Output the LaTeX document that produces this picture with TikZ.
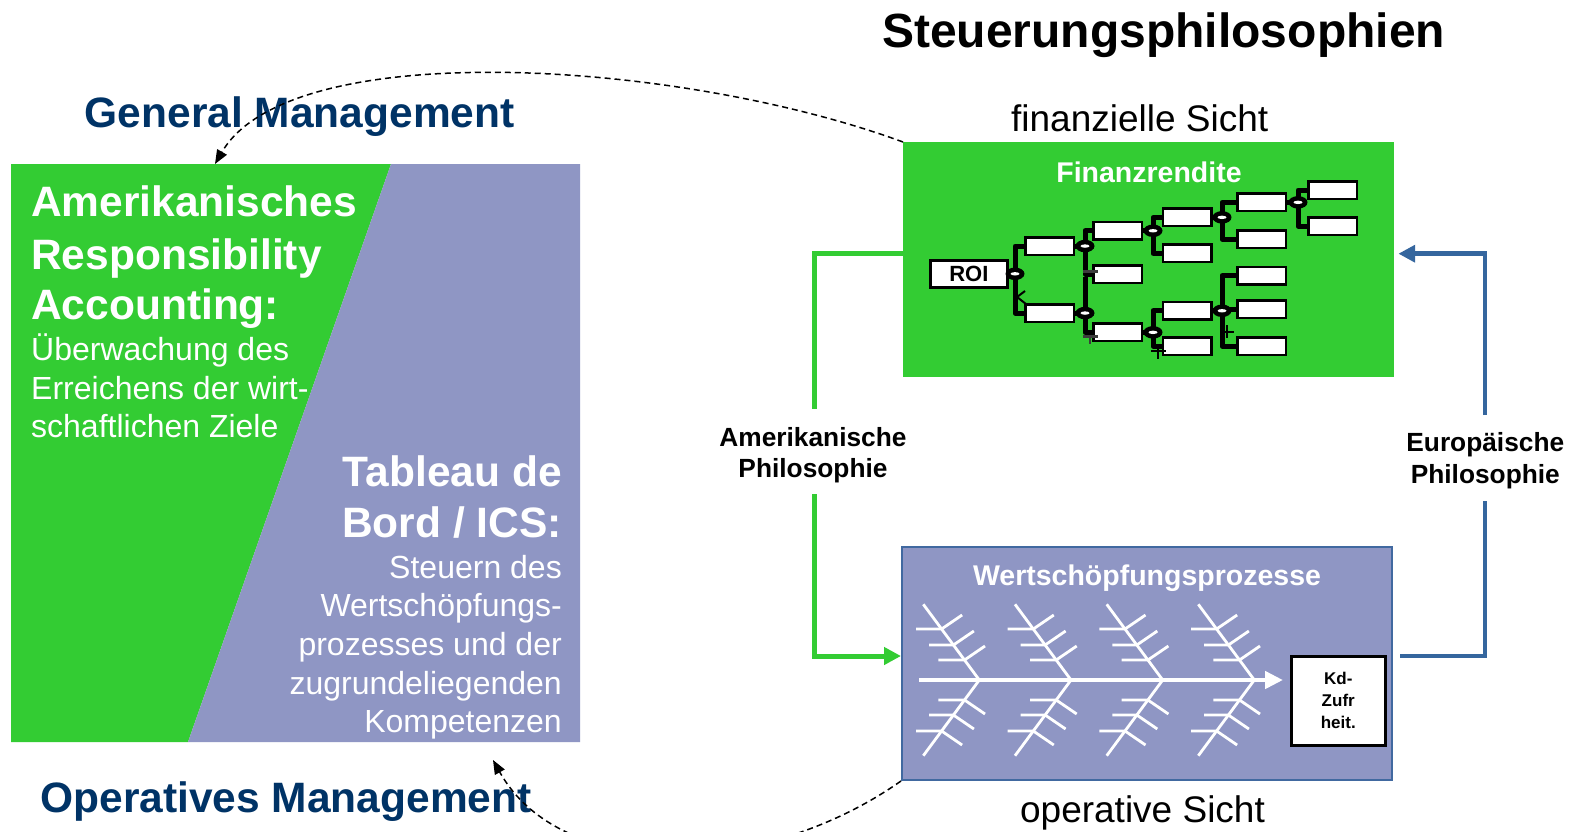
\documentclass[tikz,border=0pt]{standalone}
\usepackage{fontspec}
\setmainfont{Liberation Sans}
\usetikzlibrary{arrows.meta,shapes.geometric}
\definecolor{pgreen}{RGB}{51,204,51}
\definecolor{ppurple}{RGB}{143,150,196}
\definecolor{pborder}{RGB}{65,105,160}
\definecolor{pblue}{RGB}{53,102,158}
\definecolor{dblue}{RGB}{0,51,102}
\definecolor{markgrey}{RGB}{60,60,60}
\begin{document}
\begin{tikzpicture}[x=1pt,y=-1pt,
  wbox/.style={draw=black,fill=white,line width=2.6pt,minimum width=48.5pt,minimum height=17.5pt,inner sep=0pt,anchor=north west},
  tline/.style={line width=5pt,black,line join=round},
  opell/.style={ellipse,fill=black,minimum width=19pt,minimum height=12.5pt,inner sep=0pt,
    path picture={\fill[white] (path picture bounding box.center) ellipse (4.5pt and 1.7pt);}},
  fbone/.style={white,line width=2.8pt},
  gline/.style={pgreen,line width=5pt},
  bline/.style={pblue,line width=4.5pt},
  dline/.style={black,line width=1.5pt,dash pattern=on 6pt off 4pt,-{Triangle[length=14pt,width=11pt]}},
  gmark/.style={markgrey,line width=3pt},
  tbig/.style={font=\fontsize{42.5}{51}\selectfont\bfseries,text=white,inner sep=0pt},
  treg/.style={font=\fontsize{32}{38}\selectfont,text=white,inner sep=0pt},
  mgmt/.style={font=\fontsize{42.5}{52}\selectfont\bfseries,text=dblue,inner sep=0pt,anchor=base west},
  sicht/.style={font=\fontsize{37}{44}\selectfont,inner sep=0pt,anchor=base},
  phil/.style={font=\fontsize{26.3}{31}\selectfont\bfseries,inner sep=0pt,anchor=base},
  btitle/.style={font=\fontsize{28.5}{34}\selectfont\bfseries,text=white,inner sep=0pt,anchor=base},
]
\useasboundingbox (0,0) rectangle (1579,831);
\fill[white] (0,0) rectangle (1579,831);

% ---------- title ----------
\node[font=\fontsize{48}{58}\selectfont\bfseries,inner sep=0pt,anchor=base] (title) at (1163.6,47.5) {Steuerungsphilosophien};

% ---------- left panel ----------
\node[minimum width=569pt,minimum height=578pt,inner sep=0pt,anchor=north west] (panel) at (11,164) {};
\fill[pgreen] (11,164) -- (391,164) -- (188,742) -- (11,742) -- cycle;
\fill[ppurple] (391,164) -- (580,164) -- (580,742) -- (188,742) -- cycle;

\node[mgmt] (gm) at (84.6,127.5) {General Management};
\node[mgmt] (om) at (40.3,812) {Operatives Management};

\node[tbig,anchor=base west] (l1) at (31,216.6) {Amerikanisches};
\node[tbig,anchor=base west] (l2) at (31,269) {Responsibility};
\node[tbig,anchor=base west] (l3) at (31,319.3) {Accounting:};
\node[treg,anchor=base west] (l4) at (31,360.9) {Überwachung des};
\node[treg,anchor=base west] (l5) at (31,399.2) {Erreichens der wirt-};
\node[treg,anchor=base west] (l6) at (31,437.5) {schaftlichen Ziele};

\node[tbig,anchor=base east] (r1) at (562,486.5) {Tableau de};
\node[tbig,anchor=base east] (r2) at (562,537.8) {Bord / ICS:};
\node[treg,anchor=base east] (r3) at (562,578.4) {Steuern des};
\node[treg,anchor=base east] (r4) at (562,616.7) {Wertschöpfungs-};
\node[treg,anchor=base east] (r5) at (562,655) {prozesses und der};
\node[treg,anchor=base east] (r6) at (562,694.2) {zugrundeliegenden};
\node[treg,anchor=base east] (r7) at (562,732.5) {Kompetenzen};

% ---------- right boxes ----------
\node[sicht] (fs) at (1139.7,131) {finanzielle Sicht};
\node[fill=pgreen,minimum width=491pt,minimum height=235pt,inner sep=0pt,anchor=north west] (fin) at (903,142) {};
\node[btitle] (fint) at (1149,182.7) {Finanzrendite};

\node[draw=pborder,line width=2pt,fill=ppurple,minimum width=490pt,minimum height=233pt,inner sep=0pt,anchor=north west] (wert) at (901,546) {};
\node[btitle] (wertt) at (1147,585) {Wertschöpfungsprozesse};
\node[sicht] (os) at (1142.5,822.7) {operative Sicht};

% ---------- ROI tree ----------
\node[wbox,minimum width=77pt,minimum height=27pt,font=\fontsize{22}{26}\selectfont\bfseries] (roi) at (929,259) {ROI};
\node[wbox] (tA) at (1024,236) {};
\node[wbox] (tB) at (1024,303) {};
\node[wbox] (tC) at (1092.3,220.7) {};
\node[wbox] (tD) at (1092.3,264) {};
\node[wbox] (tE) at (1092.3,322.3) {};
\node[wbox] (tF) at (1161.7,207.3) {};
\node[wbox] (tG) at (1161.7,243.3) {};
\node[wbox] (tH) at (1161.7,300.7) {};
\node[wbox] (tI) at (1161.7,336) {};
\node[wbox] (tJ) at (1236,192.3) {};
\node[wbox] (tK) at (1236,229) {};
\node[wbox] (tL) at (1236,265.7) {};
\node[wbox] (tM) at (1236,299) {};
\node[wbox] (tN) at (1236,336) {};
\node[wbox] (tO) at (1307.3,180) {};
\node[wbox] (tP) at (1307.3,216) {};

\coordinate (v1) at (1015,0);
\coordinate (v2) at (1085,0);
\coordinate (v3) at (1153,0);
\coordinate (v4) at (1222,0);
\coordinate (v5) at (1298,0);

\draw[tline] (tA.west) -- (tA.west -| v1) -- (tB.west -| v1) -- (tB.west);
\draw[tline] (roi.east) -- (roi.east -| v1);
\draw[tline] (tC.west) -- (tC.west -| v2) -- (tD.west -| v2) -- (tD.west);
\draw[tline] (tA.east) -- (tA.east -| v2);
\draw[tline] ([yshift=-3pt]tD.west -| v2) -- (tE.west -| v2) -- (tE.west);
\draw[tline] (tB.east) -- (tB.east -| v2);
\draw[tline] (tF.west) -- (tF.west -| v3) -- (tG.west -| v3) -- (tG.west);
\draw[tline] (tC.east) -- (tC.east -| v3);
\draw[tline] (tH.west) -- (tH.west -| v3) -- (tI.west -| v3) -- (tI.west);
\draw[tline] (tE.east) -- (tE.east -| v3);
\draw[tline] (tJ.west) -- (tJ.west -| v4) -- (tK.west -| v4) -- (tK.west);
\draw[tline] (tF.east) -- (tF.east -| v4);
\draw[tline] (tL.west) -- (tL.west -| v4) -- (tN.west -| v4) -- (tN.west);
\draw[tline] (tM.west -| v4) -- (tM.west);
\draw[tline] (tH.east) -- (tH.east -| v4);
\draw[tline] (tO.west) -- (tO.west -| v5) -- (tP.west -| v5) -- (tP.west);
\draw[tline] (tJ.east) -- (tJ.east -| v5);

\node[opell] (o1) at (roi.east -| v1) {};
\node[opell] (o2) at (tA.east -| v2) {};
\node[opell] (o3) at (tB.east -| v2) {};
\node[opell] (o4) at (tC.east -| v3) {};
\node[opell] (o5) at (tE.east -| v3) {};
\node[opell] (o6) at (tF.east -| v4) {};
\node[opell] (o7) at (tH.east -| v4) {};
\node[opell] (o8) at (tJ.east -| v5) {};

% small sign marks
\draw[gmark] (1083,271.5) -- (1098,271.5);
\draw[gmark] (1083,336.5) -- (1098,336.5);
\draw[gmark,line width=2pt] (1090,337) -- (1090,344);
\draw[black,line width=2.5pt] (1151,351) -- (1166,351);
\draw[black,line width=2.5pt] (1158,344) -- (1158,359);
\draw[black,line width=2pt] (1222,331.5) -- (1234,331.5);
\draw[black,line width=2pt] (1227,325) -- (1227,338);
\draw[black,line width=2pt] (1017,297) -- (1025,291);
\draw[black,line width=2pt] (1017,297) -- (1026,304);

% ---------- fishbone ----------
\foreach \sx in {979.3,1071,1162.7,1254.3} {
  \begin{scope}[shift={(\sx,680)}]
    \draw[fbone] (0,0) -- (-56,-75.7);
    \draw[fbone] (0,0) -- (-56,75.7);
    \foreach \hy/\hx/\bx in {51/-63.3/-37.7,35/-50.3/-25.9,20/-41/-14.8} {
      \draw[fbone] (\hx,-\hy) -- (\bx,-\hy) -- ++(20.5,-14);
      \draw[fbone] (\hx,\hy) -- (\bx,\hy) -- ++(20.5,14);
    }
  \end{scope}
}
\coordinate (fbstart) at (919,680);
\coordinate (fbend) at (1283,680);
\draw[white,line width=4.5pt,-{Triangle[length=18pt,width=17pt]}] (fbstart) -- (fbend);
\node[draw=black,line width=2.5pt,fill=white,minimum width=94pt,minimum height=89pt,inner sep=0pt,anchor=north west,align=center,font=\fontsize{17}{22}\selectfont\bfseries] (kd) at (1290,655) {Kd-\\Zufr\\heit.};

% ---------- philosophy connectors ----------
\node[phil] (am1) at (813,446.5) {Amerikanische};
\node[phil] (am2) at (813,477.7) {Philosophie};
\coordinate (amtop) at (814,409);
\coordinate (ambot) at (814,494);
\draw[gline] ([yshift=6pt]fin.west) -| (amtop);
\draw[gline,-{Triangle[length=17pt,width=17pt]}] (ambot) |- ([yshift=7.5pt]wert.west);

\node[phil] (eu1) at (1485.3,451.7) {Europäische};
\node[phil] (eu2) at (1485.3,483.3) {Philosophie};
\coordinate (eutop) at (1485,415);
\coordinate (eubot) at (1485,500.7);
\draw[bline] ([shift={(7pt,7.5pt)}]wert.east) -| (eubot);
\draw[bline,-{Triangle[length=16.7pt,width=16.7pt]}] (eutop) |- ([shift={(4pt,6pt)}]fin.east);

% ---------- dashed arcs ----------
\coordinate (omtip) at (493,760);
\draw[dline] (fin.north west) .. controls (680,60) and (290,35) .. ([xshift=204pt]panel.north west);
\draw[dline] (wert.south west) .. controls (760,880) and (560,880) .. (omtip);
\end{tikzpicture}
\end{document}
